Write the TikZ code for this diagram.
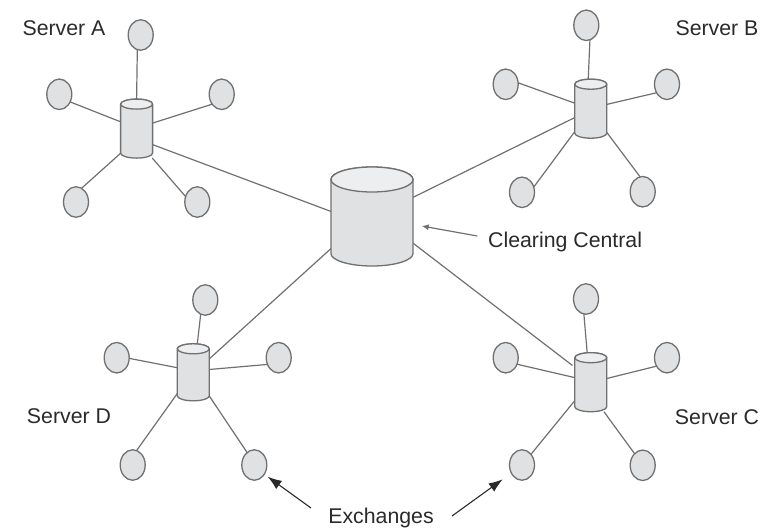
\documentclass[tikz,border=0pt]{standalone}
\usepackage{fontspec}
\setmainfont{Liberation Sans}
\usetikzlibrary{shapes.geometric,arrows.meta}
\definecolor{ln}{HTML}{707070}
\definecolor{bd}{HTML}{E0E1E3}
\definecolor{tp}{HTML}{EDEEF0}
\definecolor{tx}{HTML}{2A2A2A}
\tikzset{
  hubbox/.style={rectangle,inner sep=0pt,outer sep=0pt},
  bighub/.style={hubbox,minimum width=82pt,minimum height=99pt},
  smallhub/.style={hubbox,minimum width=32pt,minimum height=59pt},
  cylline/.style={draw=ln,line width=1.3pt,line join=round},
  exch/.style={ellipse,draw=ln,line width=1.3pt,fill=bd,minimum width=25pt,minimum height=30.5pt,inner sep=0pt,outer sep=0pt},
  wire/.style={draw=ln,line width=1.2pt},
  lbl/.style={font=\fontsize{21.3pt}{24pt}\selectfont,text=tx,inner sep=0pt},
  pointer/.style={draw=tx,line width=1.1pt,-{Latex[length=14pt,width=10pt]}},
  pointerthin/.style={draw=ln,line width=1.2pt,-{Latex[length=7pt,width=6pt]}}
}
% paints a cylinder over the box node #1, ellipse radii #2 and #3
\newcommand{\paintcyl}[3]{%
  \path[cylline,fill=bd] ([yshift=-#3]#1.north west) -- ([yshift=#3]#1.south west)
     arc[start angle=180,end angle=360,x radius=#2,y radius=#3]
     -- ([yshift=-#3]#1.north east)
     arc[start angle=0,end angle=180,x radius=#2,y radius=#3] -- cycle;
  \path[cylline,fill=tp] ([yshift=-#3]#1.north) ellipse[x radius=#2,y radius=#3];
}
\begin{document}
\begin{tikzpicture}[x=1pt,y=-1pt]
\useasboundingbox (0,0) rectangle (774,528);
\node[bighub] (central) at (372,216.5) {};
\node[smallhub] (hubA) at (136.6,128.6) {};
\node[smallhub] (hubB) at (590.8,108.7) {};
\node[smallhub] (hubC) at (590.8,382.2) {};
\node[smallhub,minimum height=57pt] (hubD) at (193.3,372.3) {};
% Server A
\node[exch] (a1) at (140.7,35) {};
\node[exch] (a2) at (59.3,94.3) {};
\node[exch] (a3) at (221.7,94.3) {};
\node[exch] (a4) at (76,202) {};
\node[exch] (a5) at (197.3,202) {};
% Server B
\node[exch] (b1) at (586.3,25.3) {};
\node[exch] (b2) at (505.7,84.3) {};
\node[exch] (b3) at (667,84.3) {};
\node[exch] (b4) at (522,192.3) {};
\node[exch] (b5) at (642.7,191.7) {};
% Server C
\node[exch] (c1) at (586,299) {};
\node[exch] (c2) at (505.7,357.7) {};
\node[exch] (c3) at (667,357.7) {};
\node[exch] (c4) at (522,465) {};
\node[exch] (c5) at (642.7,465.3) {};
% Server D
\node[exch] (d1) at (205.3,300) {};
\node[exch] (d2) at (116.7,357.7) {};
\node[exch] (d3) at (278.7,357.7) {};
\node[exch] (d4) at (132.7,465) {};
\node[exch] (d5) at (254.3,465) {};
% hub to centre
\draw[wire] (hubA.315.5) -- (central.173.3);
\draw[wire] (hubB.209) -- (central.25.9);
\draw[wire,shorten >=3pt] (central.327) -- (hubC.137.7);
\draw[wire] (hubD.40) -- (central.218.7);
% spokes
\draw[wire] (hubA.north) -- (a1.257);
\draw[wire] (hubA.157.4) -- (a2.325);
\draw[wire] (hubA.19.5) -- (a3.226);
\draw[wire] (hubA.237.1) -- (a4.68);
\draw[wire] (hubA.298.3) -- (a5.155);
\draw[wire] (hubB.95) -- (b1.284);
\draw[wire] (hubB.161) -- (b2.7);
\draw[wire] (hubB.15.5) -- (b3.219);
\draw[wire] (hubB.235) -- (b4.24.5);
\draw[wire] (hubB.304) -- (b5.100);
\draw[wire] (hubC.97) -- (c1.262);
\draw[wire] (hubC.164) -- (c2.330);
\draw[wire] (hubC.13.8) -- (c3.219);
\draw[wire] (hubC.229.8) -- (c4.50);
\draw[wire] (hubC.294) -- (c5.125);
\draw[wire] (hubD.82) -- (d1.252);
\draw[wire] (hubD.164) -- (d2.357);
\draw[wire] (hubD.10.6) -- (d3.211);
\draw[wire] (hubD.233.8) -- (d4.75.7);
\draw[wire] (hubD.304.4) -- (d5.120);
% cylinders over the line ends
\paintcyl{central}{41pt}{12.5pt}
\paintcyl{hubA}{16pt}{5pt}
\paintcyl{hubB}{16pt}{5pt}
\paintcyl{hubC}{16pt}{5pt}
\paintcyl{hubD}{16pt}{5pt}
% labels
\node[lbl] (sa) at (64,28) {Server A};
\node[lbl] (sb) at (717,28) {Server B};
\node[lbl] (sc) at (717,417) {Server C};
\node[lbl] (sd) at (69,416) {Server D};
\node[lbl,anchor=west] (cc) at (488,242) {Clearing Central};
\node[lbl] (ex) at (381,518) {Exchanges};
\coordinate (ccs) at (477.3,236);
\coordinate (cct) at (421.7,226);
\coordinate (e1) at (311,508);
\coordinate (e1t) at (267.7,476.7);
\coordinate (e2) at (452,516);
\coordinate (e2t) at (502.7,479.3);
\draw[pointerthin] (ccs) -- (cct);
\draw[pointer] (e1) -- (e1t);
\draw[pointer] (e2) -- (e2t);
\end{tikzpicture}
\end{document}
